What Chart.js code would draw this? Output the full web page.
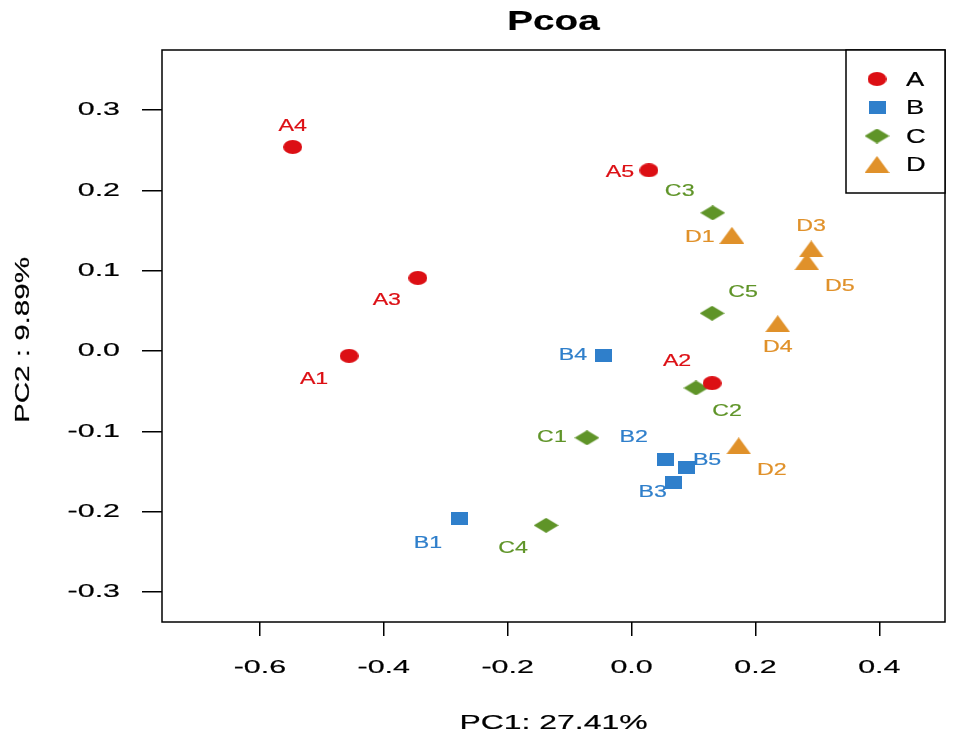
<!DOCTYPE html>
<html>
<head>
<meta charset="utf-8">
<script src="https://cdn.jsdelivr.net/npm/chart.js@4.4.1/dist/chart.umd.min.js"></script>
<style>
  body { margin: 0; background: #fff; }
  canvas { display: block; }
</style>
</head>
<body>
<canvas id="pcoaChart" width="957" height="743"></canvas>
<script>
// sample names and PC1 / PC2 coordinates per group
var namesA = ['A1', 'A2', 'A3', 'A4', 'A5'];
var pc1A = [-0.456, 0.130, -0.345, -0.547, 0.028];
var pc2A = [-0.006, -0.040, 0.091, 0.254, 0.225];

var namesB = ['B1', 'B2', 'B3', 'B4', 'B5'];
var pc1B = [-0.277, 0.055, 0.068, -0.046, 0.088];
var pc2B = [-0.208, -0.135, -0.164, -0.006, -0.145];

var namesC = ['C1', 'C2', 'C3', 'C4', 'C5'];
var pc1C = [-0.072, 0.104, 0.131, -0.138, 0.130];
var pc2C = [-0.108, -0.046, 0.172, -0.217, 0.047];

var namesD = ['D1', 'D2', 'D3', 'D4', 'D5'];
var pc1D = [0.162, 0.173, 0.290, 0.236, 0.283];
var pc2D = [0.144, -0.118, 0.127, 0.034, 0.111];

var xTicks = [-0.6, -0.4, -0.2, 0.0, 0.2, 0.4];
var yTicks = [-0.3, -0.2, -0.1, 0.0, 0.1, 0.2, 0.3];

// where each sample name sits relative to its marker (px)
var labelOffsets = {
  A1: [-35, 24], A2: [-35, -22], A3: [-31, 23], A4: [0, -20], A5: [-29, 2],
  B1: [-32, 25], B2: [-32, -22], B3: [-21, 10], B4: [-30, 0], B5: [21, -7],
  C1: [-35, 0], C2: [31, 24], C3: [-33, -21], C4: [-33, 23], C5: [31, -21],
  D1: [-32, 2], D2: [33, 25], D3: [0, -22], D4: [0, 24], D5: [33, 25]
};

var FONT = '"Liberation Sans", Arial, sans-serif';

// the original uses a wide-looking Helvetica, so text is stretched sideways
// with a hairline outline so it is a touch heavier
function wideText(ctx, text, x, y, font, sx, align, rotate) {
  ctx.save();
  ctx.translate(x, y);
  if (rotate) ctx.rotate(rotate);
  ctx.scale(sx, 1);
  ctx.font = font;
  ctx.textAlign = align || 'center';
  ctx.textBaseline = 'middle';
  ctx.strokeStyle = ctx.fillStyle;
  ctx.lineWidth = 0.2;
  ctx.fillText(text, 0, 0);
  ctx.strokeText(text, 0, 0);
  ctx.restore();
}

// stretched marker shapes like the original R plot
function makeMarker(shape, color, w, h) {
  var c = document.createElement('canvas');
  c.width = w; c.height = h;
  var g = c.getContext('2d');
  g.fillStyle = color;
  g.beginPath();
  if (shape === 'ellipse') {
    g.ellipse(w / 2, h / 2, w / 2, h / 2, 0, 0, Math.PI * 2);
  } else if (shape === 'rect') {
    g.rect(0, 0, w, h);
  } else if (shape === 'diamond') {
    g.moveTo(w / 2, 0); g.lineTo(w, h / 2); g.lineTo(w / 2, h); g.lineTo(0, h / 2);
  } else {
    g.moveTo(w / 2, 0); g.lineTo(w, h); g.lineTo(0, h);
  }
  g.closePath();
  g.fill();
  return c;
}

function toPoints(xs, ys) {
  return xs.map(function (x, i) { return { x: x, y: ys[i] }; });
}

var groups = [
  { label: 'A', names: namesA, data: toPoints(pc1A, pc2A), color: '#dc0f14', marker: makeMarker('ellipse', '#dc0f14', 19, 14) },
  { label: 'B', names: namesB, data: toPoints(pc1B, pc2B), color: '#2f7fcb', marker: makeMarker('rect', '#2f7fcb', 17, 13) },
  { label: 'C', names: namesC, data: toPoints(pc1C, pc2C), color: '#5f9428', marker: makeMarker('diamond', '#5f9428', 25, 15) },
  { label: 'D', names: namesD, data: toPoints(pc1D, pc2D), color: '#e0912a', marker: makeMarker('triangle', '#e0912a', 25, 17) }
];

// box around the plot area
var frame = {
  id: 'frame',
  afterDraw: function (chart) {
    var a = chart.chartArea, ctx = chart.ctx;
    ctx.save();
    ctx.strokeStyle = '#000';
    ctx.lineWidth = 1.5;
    ctx.strokeRect(a.left, a.top, a.right - a.left, a.bottom - a.top);
    ctx.restore();
  }
};

// title, tick labels and axis titles
var texts = {
  id: 'texts',
  afterDraw: function (chart) {
    var a = chart.chartArea, ctx = chart.ctx;
    var sx = chart.scales.x, sy = chart.scales.y;
    var mid = (a.left + a.right) / 2;
    ctx.save();
    ctx.fillStyle = '#000';
    wideText(ctx, 'Pcoa', mid, 22, 'bold 28px ' + FONT, 1.38);
    xTicks.forEach(function (v) {
      wideText(ctx, v.toFixed(1), sx.getPixelForValue(v), 668, '19px ' + FONT, 1.6);
    });
    yTicks.forEach(function (v) {
      wideText(ctx, v.toFixed(1), 120, sy.getPixelForValue(v), '19px ' + FONT, 1.6, 'right');
    });
    wideText(ctx, 'PC1: 27.41%', mid, 723, '21px ' + FONT, 1.52);
    wideText(ctx, 'PC2 : 9.89%', 23, (a.top + a.bottom) / 2 + 4, '20px ' + FONT, 1.48, 'center', -Math.PI / 2);
    ctx.restore();
  }
};

// sample names next to the markers
var pointNames = {
  id: 'pointNames',
  afterDatasetsDraw: function (chart) {
    var ctx = chart.ctx;
    ctx.save();
    chart.data.datasets.forEach(function (ds, di) {
      chart.getDatasetMeta(di).data.forEach(function (el, i) {
        var name = ds.names[i];
        var off = labelOffsets[name] || [0, -20];
        ctx.fillStyle = ds.borderColor;
        wideText(ctx, name, el.x + off[0], el.y + off[1], '16px ' + FONT, 1.45);
      });
    });
    ctx.restore();
  }
};

// legend box in the top right corner
var boxLegend = {
  id: 'boxLegend',
  afterDraw: function (chart) {
    var a = chart.chartArea, ctx = chart.ctx;
    var w = 99, h = 143, x0 = a.right - w, y0 = a.top;
    ctx.save();
    ctx.fillStyle = '#fff';
    ctx.fillRect(x0, y0, w, h);
    ctx.strokeStyle = '#000';
    ctx.lineWidth = 1.5;
    ctx.strokeRect(x0, y0, w, h);
    chart.data.datasets.forEach(function (ds, i) {
      var cy = y0 + 29 + i * 28.5;
      var m = ds.pointStyle;
      ctx.drawImage(m, x0 + 31 - m.width / 2, cy - m.height / 2);
      ctx.fillStyle = '#000';
      wideText(ctx, ds.label, x0 + 60, cy + 1, '21px ' + FONT, 1.3, 'left');
    });
    ctx.restore();
  }
};

var ctx = document.getElementById('pcoaChart').getContext('2d');
var pcoaChart = new Chart(ctx, {
  type: 'scatter',
  data: {
    datasets: groups.map(function (g) {
      return {
        label: g.label,
        names: g.names,
        data: g.data,
        pointStyle: g.marker,
        borderColor: g.color,
        backgroundColor: g.color,
        pointRadius: 10
      };
    })
  },
  options: {
    responsive: false,
    animation: false,
    devicePixelRatio: 1,
    layout: { padding: { top: 50, right: 12, bottom: 0, left: 0 } },
    plugins: {
      legend: { display: false },
      tooltip: { enabled: false },
      title: { display: false }
    },
    scales: {
      x: {
        type: 'linear',
        min: -0.758,
        max: 0.506,
        afterFit: function (s) { s.height = 121; },
        afterBuildTicks: function (s) { s.ticks = xTicks.map(function (v) { return { value: v }; }); },
        border: { display: false },
        grid: { drawOnChartArea: false, drawTicks: true, tickLength: 14, tickColor: '#000', lineWidth: 1.5 },
        ticks: { color: 'rgba(0,0,0,0)', padding: 18, font: { family: FONT, size: 19 } }
      },
      y: {
        type: 'linear',
        min: -0.3373,
        max: 0.3747,
        afterFit: function (s) { s.width = 162; },
        afterBuildTicks: function (s) { s.ticks = yTicks.map(function (v) { return { value: v }; }); },
        border: { display: false },
        grid: { drawOnChartArea: false, drawTicks: true, tickLength: 20, tickColor: '#000', lineWidth: 1.5 },
        ticks: { color: 'rgba(0,0,0,0)', padding: 22, font: { family: FONT, size: 19 } }
      }
    }
  },
  plugins: [pointNames, frame, boxLegend, texts]
});
</script>
</body>
</html>
